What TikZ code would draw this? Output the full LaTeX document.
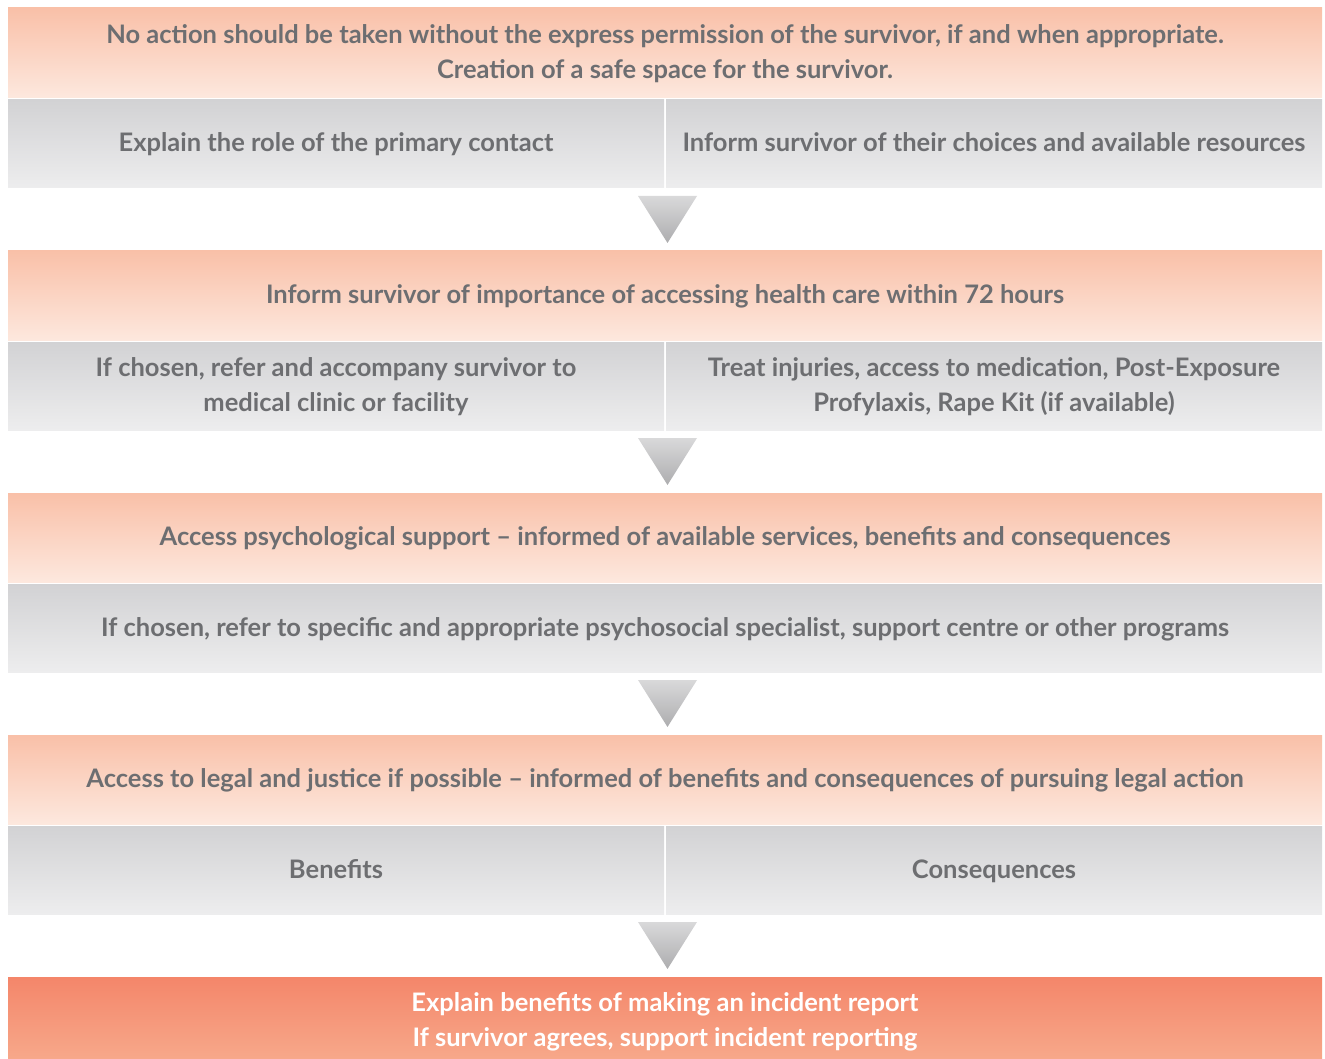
\documentclass[tikz,border=0pt]{standalone}
\usepackage{fontspec}
\setmainfont{Lato}
\definecolor{txtgray}{HTML}{6D6E71}
\definecolor{salTop}{HTML}{F9C0A8}
\definecolor{salBot}{HTML}{FDE8DE}
\definecolor{grTop}{HTML}{D2D2D4}
\definecolor{grBot}{HTML}{EDEDEE}
\definecolor{arTop}{HTML}{D9D9DA}
\definecolor{arBot}{HTML}{ADADAF}
\definecolor{finTop}{HTML}{F4866A}
\definecolor{finBot}{HTML}{F7A88A}
\tikzset{
  boxbase/.style={rectangle, inner sep=0pt, draw=none, align=center,
    font=\fontsize{25.5}{35}\selectfont\bfseries, text=txtgray},
  oneline/.style={text height=20pt, text depth=4pt},
  twoline/.style={text height=55pt, text depth=4pt},
  salbox/.style={boxbase, top color=salTop, bottom color=salBot, minimum width=1314pt, minimum height=90pt},
  graybox/.style={boxbase, top color=grTop, bottom color=grBot, minimum height=88pt},
  fullgray/.style={graybox, minimum width=1314pt},
  halfgray/.style={graybox, minimum width=656pt},
  finbox/.style={boxbase, top color=finTop, bottom color=finBot, minimum width=1314pt, minimum height=82pt, text=white},
  downarrow/.style={top color=arTop, bottom color=arBot, draw=none}
}
\begin{document}
\begin{tikzpicture}[x=1pt,y=-1pt]
\useasboundingbox (0,0) rectangle (1325,1059);
% row 1
\node[salbox, twoline] (s1) at (665,53) {No action should be taken without the express permission of the survivor, if and when appropriate.\\Creation of a safe space for the survivor.};
\node[halfgray, oneline] (g1l) at (336,144) {Explain the role of the primary contact};
\node[halfgray, oneline] (g1r) at (994,144) {Inform survivor of their choices and available resources};
\shade[downarrow] (638,196) -- (697,196) -- (667.5,243) -- cycle;
% row 2
\node[salbox, oneline] (s2) at (665,295.5) {Inform survivor of importance of accessing health care within 72 hours};
\node[halfgray, twoline] (g2l) at (336,386) {If chosen, refer and accompany survivor to\\medical clinic or facility};
\node[halfgray, twoline] (g2r) at (994,386) {Treat injuries, access to medication, Post-Exposure\\Profylaxis, Rape Kit (if available)};
\shade[downarrow] (638,438) -- (697,438) -- (667.5,485) -- cycle;
% row 3
\node[salbox, oneline, minimum height=89pt] (s3) at (665,537.5) {Access psychological support -- informed of available services, benefits and consequences};
\node[fullgray, oneline] (g3) at (665,628) {If chosen, refer to specific and appropriate psychosocial specialist, support centre or other programs};
\shade[downarrow] (638,680) -- (697,680) -- (667.5,727) -- cycle;
% row 4
\node[salbox, oneline, minimum height=89pt] (s4) at (665,779.5) {Access to legal and justice if possible -- informed of benefits and consequences of pursuing legal action};
\node[halfgray, oneline] (g4l) at (336,870) {Benefits};
\node[halfgray, oneline] (g4r) at (994,870) {Consequences};
\shade[downarrow] (638,922) -- (697,922) -- (667.5,969) -- cycle;
% final
\node[finbox, twoline, minimum height=82pt] (f) at (665,1018) {\raisebox{-3pt}{Explain benefits of making an incident report}\\\raisebox{-3pt}{If survivor agrees, support incident reporting}};
\end{tikzpicture}
\end{document}
